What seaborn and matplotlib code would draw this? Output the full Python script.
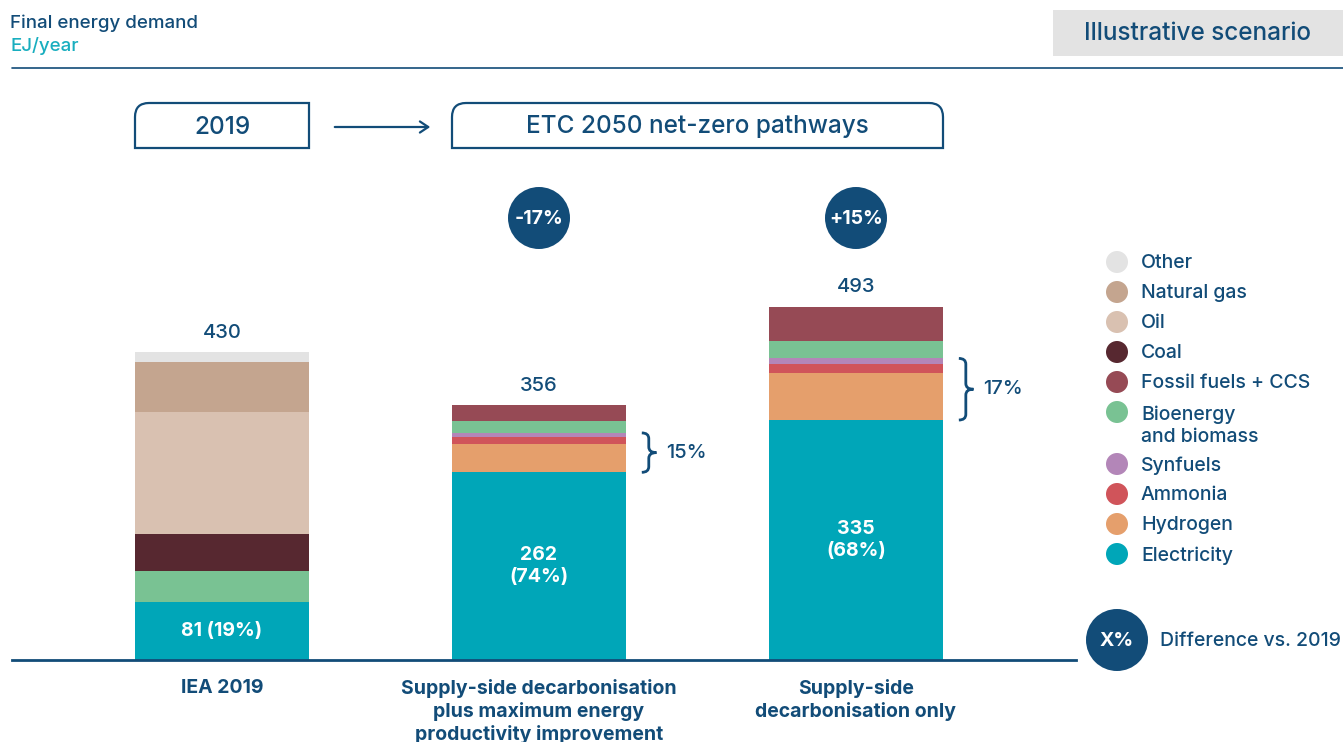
import matplotlib
matplotlib.use("Agg")
import matplotlib.pyplot as plt
from matplotlib.path import Path
from matplotlib.patches import PathPatch, Circle, Rectangle
import seaborn as sns
import pandas as pd

# Scenarios (x categories)
scenarios = ["IEA 2019",
             "Supply-side decarbonisation\nplus maximum energy\nproductivity improvement",
             "Supply-side\ndecarbonisation only"]

# Fuel segments, bottom to top of the stack (EJ/year)
fuels = ["Electricity", "Hydrogen", "Ammonia", "Synfuels", "Bioenergy\nand biomass",
         "Fossil fuels + CCS", "Coal", "Oil", "Natural gas", "Other"]
electricity = [81, 262, 335]
hydrogen = [0, 39, 66]
ammonia = [0, 11, 12]
synfuels = [0, 5, 8]
bioenergy = [43, 16, 25]
fossil_ccs = [0, 23, 47]
coal = [52, 0, 0]
oil = [170, 0, 0]
natural_gas = [70, 0, 0]
other = [14, 0, 0]

colors = ["#00A6B8", "#E59F6C", "#D0545A", "#B386B8", "#79C293",
          "#964A55", "#572830", "#D9C1B1", "#C4A58F", "#E3E3E3"]

NAVY = "#124C78"
TEAL = "#19AEBF"
MW = "medium"

series = [electricity, hydrogen, ammonia, synfuels, bioenergy,
          fossil_ccs, coal, oil, natural_gas, other]

rows = []
for j, sc in enumerate(scenarios):
    cum = 0
    for fuel, vals in zip(fuels, series):
        cum += vals[j]
        rows.append({"scenario": sc, "fuel": fuel, "value": vals[j], "top": cum})
df = pd.DataFrame(rows)
totals = df.groupby("scenario", sort=False)["value"].sum().reindex(scenarios).values

sns.set_style("white")
plt.rcParams["font.family"] = ["Inter", "DejaVu Sans"]

fig = plt.figure(figsize=(13.43, 7.42), dpi=100)

# overlay in pixel coordinates for header / boxes / legend
ov = fig.add_axes([0, 0, 1, 1], zorder=0)
ov.set_xlim(0, 1343)
ov.set_ylim(742, 0)
ov.axis("off")

ax = fig.add_axes([12 / 1343, 82 / 742, 1064 / 1343, 500 / 742], zorder=1)
ax.patch.set_alpha(0)

bw = 0.549
# stacked bars: draw cumulative tops from the top segment down
for fuel, col in reversed(list(zip(fuels, colors))):
    sub = df[(df["fuel"] == fuel) & (df["value"] > 0)]
    sns.barplot(data=sub, x="scenario", y="top", order=scenarios, color=col,
                saturation=1, width=bw, linewidth=0, errorbar=None, ax=ax)

ax.set_xlim(-0.662, 2.694)
ax.set_ylim(0, 698)
ax.set_xlabel("")
ax.set_ylabel("")
ax.set_yticks([])
for s in ["left", "top", "right"]:
    ax.spines[s].set_visible(False)
ax.spines["bottom"].set_color(NAVY)
ax.spines["bottom"].set_linewidth(2)
ax.tick_params(axis="x", length=0, pad=14)
ax.set_xticks(range(len(scenarios)))
ax.set_xticklabels(scenarios, fontsize=14, fontweight="bold", color=NAVY,
                   linespacing=1.26, va="top")

# totals above bars and electricity labels inside
for i, tot in enumerate(totals):
    ax.annotate(f"{tot:.0f}", (i, tot), xytext=(0, 14), textcoords="offset points",
                ha="center", va="center", fontsize=14.5, color=NAVY, fontweight=MW)
    share = electricity[i] / tot
    sep = " " if i == 0 else "\n"
    ax.text(i, electricity[i] / 2, f"{electricity[i]}{sep}({share:.0%})", ha="center",
            va="center", fontsize=14, fontweight="bold", color="white",
            linespacing=1.3)

# braces for hydrogen-based fuels share
for i in [1, 2]:
    y0 = electricity[i]
    y1 = y0 + hydrogen[i] + ammonia[i] + synfuels[i]
    ym = (y0 + y1) / 2
    xl = i + bw / 2 + 0.05
    xm = xl + 0.022
    xr = xl + 0.046
    r = 8
    verts = [(xl, y1), (xm, y1), (xm, y1 - r), (xm, ym + r), (xm, ym), (xr, ym),
             (xm, ym), (xm, ym - r), (xm, y0 + r), (xm, y0), (xl, y0)]
    codes = [Path.MOVETO, Path.CURVE3, Path.CURVE3, Path.LINETO, Path.CURVE3, Path.CURVE3,
             Path.CURVE3, Path.CURVE3, Path.LINETO, Path.CURVE3, Path.CURVE3]
    ax.add_patch(PathPatch(Path(verts, codes), fill=False, edgecolor=NAVY, lw=2,
                           clip_on=False, capstyle="butt"))
    pct = (y1 - y0) / totals[i]
    ax.text(xr + 0.032, ym, f"{pct:.0%}", ha="left", va="center", fontsize=14.5,
            color=NAVY, fontweight=MW)

# header
ov.text(10, 23, "Final energy demand", fontsize=13.5, color=NAVY, va="center", fontweight=MW)
ov.text(10, 46, "EJ/year", fontsize=13.5, color=TEAL, va="center", fontweight=MW)
ov.plot([12, 1343], [68, 68], color=NAVY, lw=1.2)
ov.add_patch(Rectangle((1053, 10), 290, 46, facecolor="#E3E3E3", edgecolor="none"))
ov.text(1198, 34, "Illustrative scenario", fontsize=17.5, color=NAVY, ha="center",
        va="center", fontweight=MW)

# period boxes
def top_box(x0, x1, y0, y1, rl, rr):
    verts = [(x0, y1), (x0, y0 + rl), (x0, y0), (x0 + rl, y0), (x1 - rr, y0), (x1, y0),
             (x1, y0 + rr), (x1, y1), (x0, y1)]
    codes = [Path.MOVETO, Path.LINETO, Path.CURVE3, Path.CURVE3, Path.LINETO, Path.CURVE3,
             Path.CURVE3, Path.LINETO, Path.CLOSEPOLY]
    ov.add_patch(PathPatch(Path(verts, codes), fill=False, edgecolor=NAVY, lw=1.6))

top_box(135, 309, 103, 148, 14, 0)
ov.text(222, 127, "2019", fontsize=17.5, color=NAVY, ha="center", va="center", fontweight=MW)
top_box(452, 943, 103, 148, 14, 14)
ov.text(697, 127, "ETC 2050 net-zero pathways", fontsize=17.5, color=NAVY, ha="center",
        va="center", fontweight=MW)
ov.annotate("", xy=(433, 127), xytext=(332, 127),
            arrowprops=dict(arrowstyle="->,head_length=0.6,head_width=0.4", color=NAVY, lw=1.6))

# difference vs 2019 circles
for i, cx in [(1, 539), (2, 856)]:
    diff = totals[i] / totals[0] - 1
    ov.add_patch(Circle((cx, 218), 31, facecolor=NAVY, edgecolor="none"))
    ov.text(cx, 219, f"{diff:+.0%}", fontsize=14, fontweight="bold", color="white",
            ha="center", va="center")

# legend
y = 262
for fuel, col in reversed(list(zip(fuels, colors))):
    n = fuel.count("\n") + 1
    ov.add_patch(Circle((1117, y), 11, facecolor=col, edgecolor="none"))
    ov.text(1141, y + 1.5 + (n - 1) * 12, fuel, fontsize=14, color=NAVY, va="center",
            linespacing=1.25, fontweight=MW)
    y += 30 + 22 * (n - 1)

ov.add_patch(Circle((1117, 640), 31, facecolor=NAVY, edgecolor="none"))
ov.text(1117, 641, "X%", fontsize=14, fontweight="bold", color="white", ha="center", va="center")
ov.text(1160, 641, "Difference vs. 2019", fontsize=14, color=NAVY, va="center", fontweight=MW)

fig.savefig("out.png", dpi=100)
